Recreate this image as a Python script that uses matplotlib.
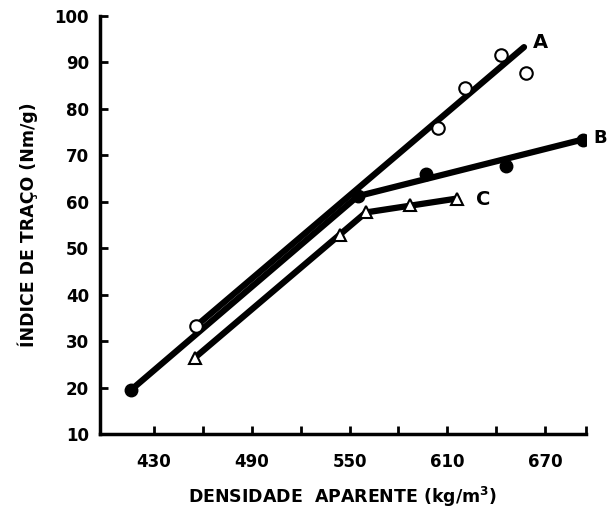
import matplotlib
matplotlib.use("Agg")
from matplotlib import pyplot as plt

# pontos medidos
a_x = [456, 604, 621, 643, 658]
a_y = [33.3, 75.8, 84.5, 91.6, 87.8]
b_x = [416, 555, 597, 646, 693]
b_y = [19.5, 61.2, 65.9, 67.6, 73.4]
c_x = [455, 544, 560, 587, 616]
c_y = [26.4, 52.8, 57.7, 59.4, 60.7]

# retas ajustadas (vertices)
a_lx = [456, 657]
a_ly = [33.3, 93.3]
b_lx = [416, 555, 693]
b_ly = [19.5, 61.2, 73.4]
c_lx = [455, 560, 616]
c_ly = [26.4, 57.7, 60.7]

xticks = [430, 490, 550, 610, 670]
xminor = [460, 520, 580, 640, 695]
yticks = [10, 20, 30, 40, 50, 60, 70, 80, 90, 100]

plt.rcParams['font.family'] = 'DejaVu Sans'
plt.rcParams['font.weight'] = 'bold'

fig = plt.figure(figsize=(6.11, 5.16), dpi=100)
ax = fig.add_axes([0.164, 0.159, 0.795, 0.810])

lw = 4.5
ax.plot(b_lx, b_ly, color='black', lw=lw, solid_capstyle='round', zorder=2)
ax.plot(a_lx, a_ly, color='black', lw=lw, solid_capstyle='round', zorder=2)
ax.plot(c_lx, c_ly, color='black', lw=lw, solid_capstyle='round', zorder=2)

ax.plot(a_x, a_y, 'o', ms=9, mfc='white', mec='black', mew=1.5, ls='none', zorder=3)
ax.plot(b_x, b_y, 'o', ms=9, mfc='black', mec='black', ls='none', zorder=3)
ax.plot(c_x, c_y, '^', ms=8, mfc='white', mec='black', mew=1.5, ls='none', zorder=3)

ax.text(667, 94.4, 'A', fontsize=14, fontweight='bold', va='center', ha='center')
ax.text(704, 73.8, 'B', fontsize=13, fontweight='bold', va='center', ha='center',
        clip_on=False)
ax.text(632, 60.5, 'C', fontsize=14, fontweight='bold', va='center', ha='center')

ax.set_xlim(397, 695)
ax.set_ylim(10, 100)
ax.set_xticks(xticks)
ax.set_xticks(xminor, minor=True)
ax.set_yticks(yticks)
ax.tick_params(axis='both', which='both', direction='in', width=2, length=6, labelsize=12)
ax.tick_params(axis='x', pad=14)
ax.tick_params(axis='y', pad=8)

for s in ['top', 'right']:
    ax.spines[s].set_visible(False)
for s in ['left', 'bottom']:
    ax.spines[s].set_linewidth(2.5)

ax.set_xlabel('DENSIDADE  APARENTE (kg/m$^\\mathbf{3}$)', fontsize=12.5, fontweight='bold', labelpad=10)
ax.set_ylabel('ÍNDICE DE TRAÇO (Nm/g)', fontsize=12.5, fontweight='bold', labelpad=12)

fig.savefig('out.png', dpi=100)
